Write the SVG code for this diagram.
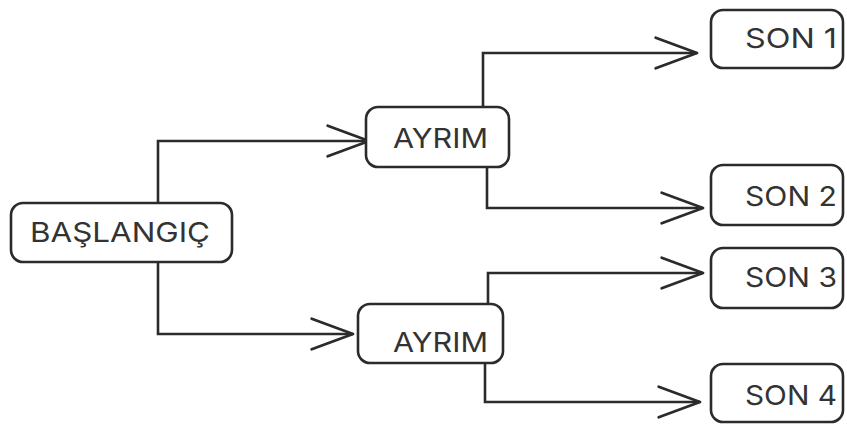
<svg xmlns="http://www.w3.org/2000/svg" width="847" height="424" viewBox="0 0 847 424">
<defs>
<marker id="arr" markerUnits="userSpaceOnUse" markerWidth="50" markerHeight="40" viewBox="-42 -18 46 36" refX="0" refY="0" orient="auto" overflow="visible">
<path d="M-38,-14 L0,0 L-38,14" fill="none" stroke="#2b2b2b" stroke-width="2.6" stroke-linecap="round" stroke-linejoin="round"/>
</marker>
</defs>
<style>
.box{fill:#fff;stroke:#2b2b2b;stroke-width:2.6}
.lbl{font-family:Inter,"Open Sans","DejaVu Sans",sans-serif;font-size:27.5px;fill:#333}
.con{fill:none;stroke:#2b2b2b;stroke-width:2.6;marker-end:url(#arr)}
</style>
<rect width="847" height="424" fill="#fff"/>
<g id="connectors">
<polyline class="con" points="158,203 158,141 369,141"/>
<polyline class="con" points="158,262 158,334 353,334"/>
<polyline class="con" points="483,107 483,53 697,53"/>
<polyline class="con" points="487,167 487,208 703,208"/>
<polyline class="con" points="488,305 488,273 703,273"/>
<polyline class="con" points="485,363 485,402 700,402"/>
</g>
<g id="baslangic">
<rect class="box" x="11" y="203" width="221" height="59" rx="12"/>
<text class="lbl" x="30" y="242" textLength="180" lengthAdjust="spacingAndGlyphs">BAŞLANGIÇ</text>
</g>
<g id="ayrim1">
<rect class="box" x="366" y="107" width="143" height="60" rx="12"/>
<text class="lbl" x="393" y="148" textLength="95" lengthAdjust="spacingAndGlyphs">AYRIM</text>
</g>
<g id="ayrim2">
<rect class="box" x="358" y="304" width="145" height="59" rx="12"/>
<text class="lbl" x="393" y="352" textLength="95" lengthAdjust="spacingAndGlyphs">AYRIM</text>
</g>
<g id="son1">
<rect class="box" x="711" y="10" width="132" height="58" rx="12"/>
<text class="lbl" x="745" y="48" textLength="92" lengthAdjust="spacingAndGlyphs">SON 1</text>
</g>
<g id="son2">
<rect class="box" x="711" y="165" width="132" height="60" rx="12"/>
<text class="lbl" x="745" y="206" textLength="92" lengthAdjust="spacingAndGlyphs">SON 2</text>
</g>
<g id="son3">
<rect class="box" x="711" y="248" width="132" height="60" rx="12"/>
<text class="lbl" x="745" y="287" textLength="92" lengthAdjust="spacingAndGlyphs">SON 3</text>
</g>
<g id="son4">
<rect class="box" x="711" y="364" width="132" height="58" rx="12"/>
<text class="lbl" x="745" y="405" textLength="92" lengthAdjust="spacingAndGlyphs">SON 4</text>
</g>
</svg>
